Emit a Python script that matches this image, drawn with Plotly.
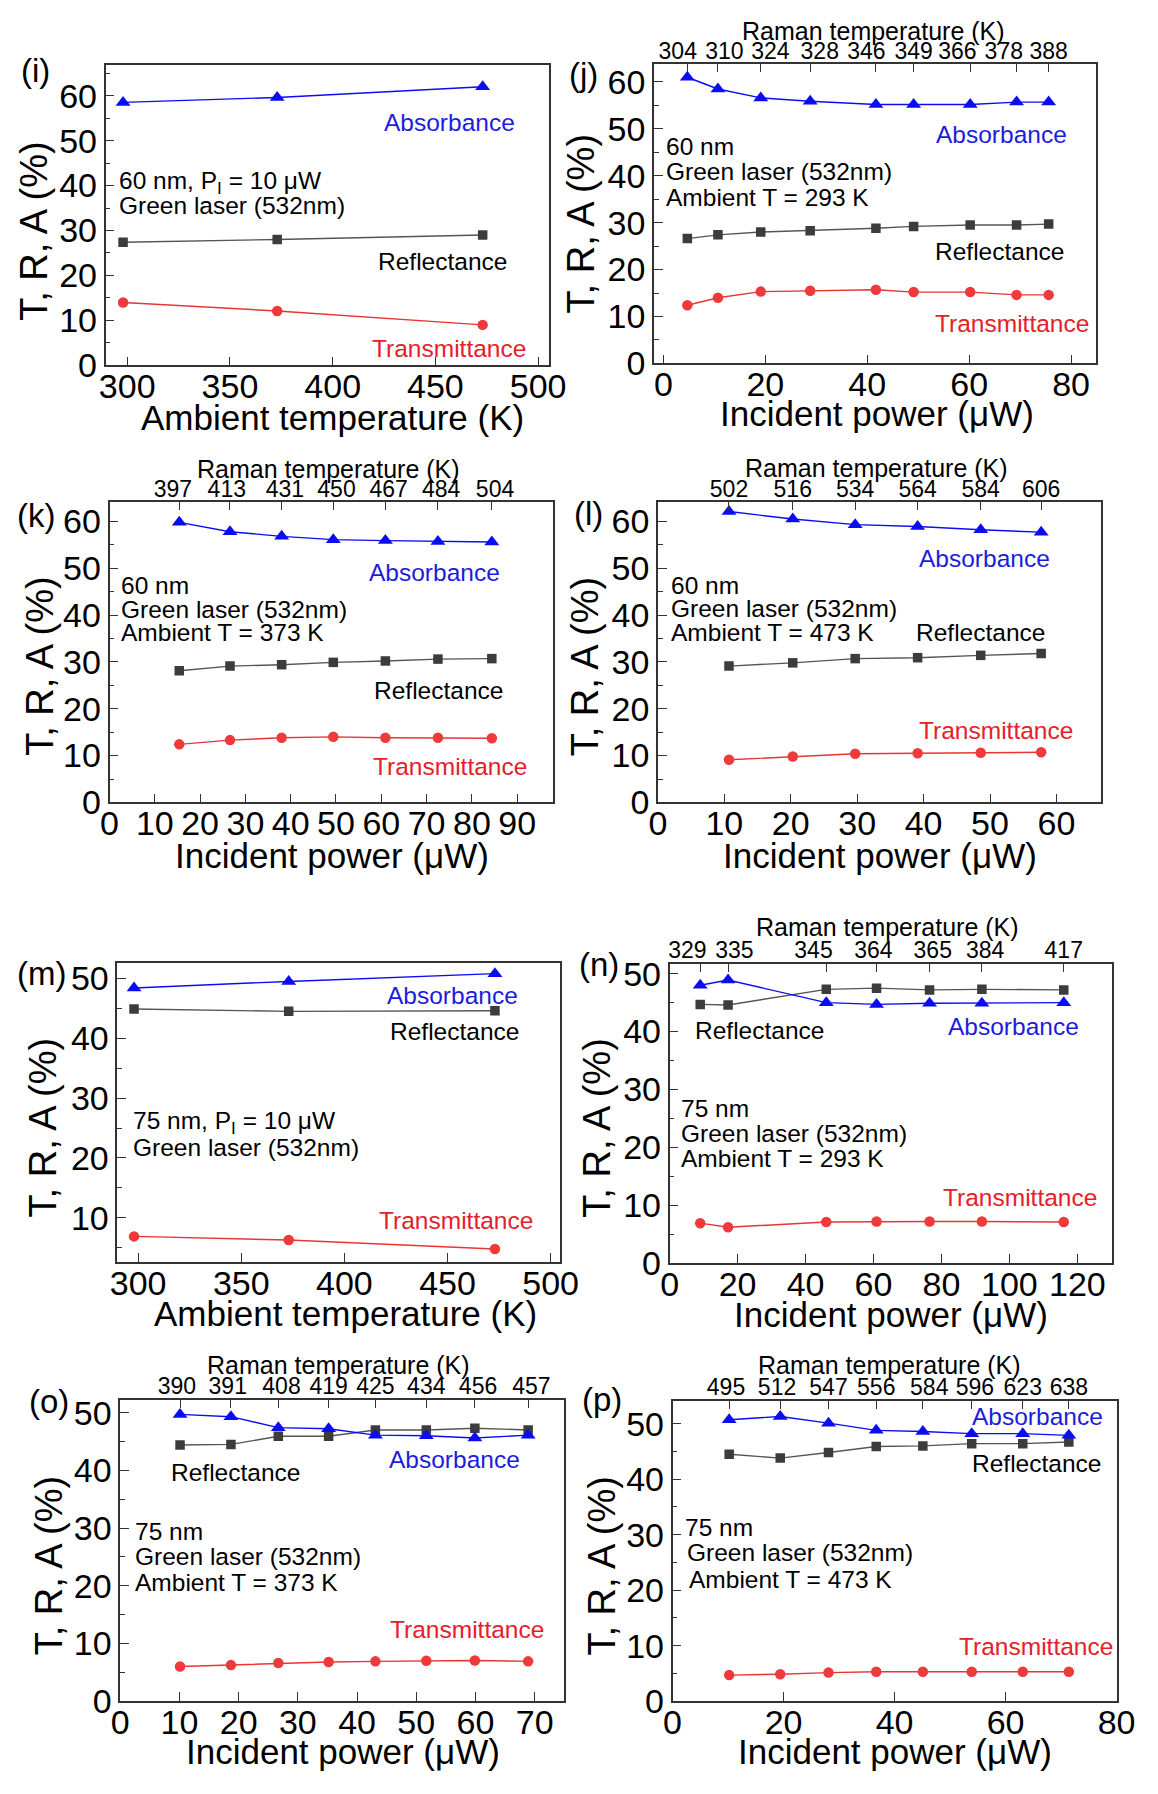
import plotly.graph_objects as go

# ---------------- data ----------------
# (i) 60 nm film, P_I = 10 uW, versus ambient temperature
i_temp = [298, 373, 473]
i_abs = [58.5, 59.6, 62.0]
i_ref = [27.4, 28.0, 29.0]
i_trn = [14.0, 12.1, 9.0]

# (j) 60 nm, ambient 293 K
j_power = [4.7, 10.7, 19.1, 28.8, 41.7, 49.1, 60.2, 69.3, 75.6]
j_raman = [304, 310, 324, 328, 346, 349, 366, 378, 388]
j_abs = [61.0, 58.5, 56.6, 55.9, 55.2, 55.2, 55.2, 55.7, 55.7]
j_ref = [26.6, 27.4, 28.0, 28.3, 28.8, 29.2, 29.5, 29.5, 29.7]
j_trn = [12.4, 14.0, 15.3, 15.5, 15.7, 15.2, 15.2, 14.6, 14.6]

# (k) 60 nm, ambient 373 K
k_power = [15.4, 26.6, 38.0, 49.4, 60.9, 72.5, 84.4]
k_raman = [397, 413, 431, 450, 467, 484, 504]
k_abs = [59.8, 57.8, 56.8, 56.1, 55.9, 55.7, 55.6]
k_ref = [28.1, 29.1, 29.4, 29.9, 30.2, 30.6, 30.7]
k_trn = [12.4, 13.3, 13.8, 14.0, 13.8, 13.8, 13.7]

# (l) 60 nm, ambient 473 K
l_power = [10.7, 20.3, 29.7, 39.1, 48.6, 57.7]
l_raman = [502, 516, 534, 564, 584, 606]
l_abs = [62.1, 60.5, 59.3, 58.9, 58.2, 57.7]
l_ref = [29.1, 29.8, 30.7, 30.9, 31.4, 31.8]
l_trn = [9.1, 9.8, 10.4, 10.5, 10.6, 10.7]

# (m) 75 nm film, P_I = 10 uW, versus ambient temperature
m_temp = [298, 373, 473]
m_abs = [48.4, 49.5, 50.8]
m_ref = [44.9, 44.5, 44.6]
m_trn = [6.9, 6.3, 4.8]

# (n) 75 nm, ambient 293 K
n_power = [9.0, 17.2, 46.1, 60.9, 76.5, 91.9, 116.0]
n_raman = [329, 335, 345, 364, 365, 384, 417]
n_abs = [48.0, 48.9, 45.0, 44.7, 44.9, 44.9, 45.0]
n_ref = [44.7, 44.6, 47.3, 47.5, 47.2, 47.3, 47.2]
n_trn = [6.9, 6.2, 7.1, 7.2, 7.2, 7.2, 7.1]

# (o) 75 nm, ambient 373 K
o_power = [10.1, 18.7, 26.7, 35.2, 43.1, 51.7, 59.9, 68.9]
o_raman = [390, 391, 408, 419, 425, 434, 456, 457]
o_abs = [49.7, 49.3, 47.4, 47.2, 46.1, 46.0, 45.6, 46.1]
o_ref = [44.4, 44.5, 45.9, 45.9, 47.0, 47.0, 47.3, 47.0]
o_trn = [6.0, 6.25, 6.6, 6.8, 6.9, 7.0, 7.05, 6.9]

# (p) 75 nm, ambient 473 K
p_power = [10.2, 19.4, 28.1, 36.7, 45.1, 53.9, 63.1, 71.4]
p_raman = [495, 512, 547, 556, 584, 596, 623, 638]
p_abs = [50.7, 51.3, 50.1, 48.8, 48.6, 48.2, 48.2, 47.9]
p_ref = [44.5, 43.8, 44.8, 45.9, 46.0, 46.4, 46.4, 46.7]
p_trn = [4.7, 4.85, 5.15, 5.3, 5.3, 5.3, 5.3, 5.3]

# ---------------- styling ----------------
W, H = 1158, 1794
FONT = "Liberation Sans, Arial, Helvetica, sans-serif"
BLUE, BLUE_TXT = "#0c0cf2", "#1c1cdc"
GRAY, GRAY_LINE = "#3c3c3c", "#555555"
RED, RED_LINE, RED_TXT = "#ee3a3a", "#e83434", "#e5202a"
FRAME = "#333333"

TICK_FS = 34
XTITLE_FS = 35
YTITLE_FS = 38
TAG_FS = 33
TOP_TICK_FS = 23
TOP_TITLE_FS = 25
LABEL_FS = 24.5
INFO_FS = 24.5

X_AMB = "Ambient temperature (K)"
X_POW = "Incident power (\u03bcW)"
NBSP = "\u00a0"

# panel layout: box (left, right, top, bottom) in px, axis ranges, x tick step,
# label positions in px; "nudge" offsets crowded top labels (in padding spaces,
# negative = to the left)
panels = [
    dict(tag="(i)", x=i_temp, a=i_abs, r=i_ref, t=i_trn, raman=None,
         box=(99, 553, 57, 362), xr=[289.5, 505.1], yr=[0, 66.8], dx=50, x0=300,
         xtitle=X_AMB, xt=(332, 415), yt=(26, 226), tg=(27, 62), top=None,
         lab_a=(451, 115), lab_r=(444, 256), lab_t=(451, 345),
         info=[(111, 176, "60 nm, P<sub>I</sub> = 10 \u03bcW"), (111, 200, "Green laser (532nm)")]),
    dict(tag="(j)", x=j_power, a=j_abs, r=j_ref, t=j_trn, raman=j_raman,
         nudge=[-3, 2, 3, 3, -3, 0, -4, -4, 0],
         box=(661, 1114, 56, 360), xr=[-1.84, 84.9], yr=[0, 63.8], dx=20, x0=0,
         xtitle=X_POW, xt=(889, 411), yt=(586, 218), tg=(589, 67), top=(886, 22),
         lab_a=(1017, 127), lab_r=(1015, 246), lab_t=(1028, 319),
         info=[(671, 140, "60 nm"), (671, 165, "Green laser (532nm)"), (671, 191, "Ambient T = 293 K")]),
    dict(tag="(k)", x=k_power, a=k_abs, r=k_ref, t=k_trn, raman=k_raman,
         nudge=[-2, -1, 1, 1, 1, 1, 1],
         box=(103, 557, 501, 806), xr=[0, 97.8], yr=[0, 64.1], dx=10, x0=0,
         xtitle=X_POW, xt=(331, 860), yt=(31, 668), tg=(28, 515), top=(327, 467),
         lab_a=(436, 572), lab_r=(440, 692), lab_t=(452, 770),
         info=[(113, 586, "60 nm"), (113, 610, "Green laser (532nm)"), (113, 633, "Ambient T = 373 K")]),
    dict(tag="(l)", x=l_power, a=l_abs, r=l_ref, t=l_trn, raman=l_raman,
         nudge=[0, 0, 0, 0, 0, 0],
         box=(665, 1119, 501, 806), xr=[0, 66.7], yr=[0, 64.1], dx=10, x0=0,
         xtitle=X_POW, xt=(893, 860), yt=(590, 668), tg=(594, 512), top=(889, 466),
         lab_a=(1000, 558), lab_r=(996, 633), lab_t=(1011, 733),
         info=[(676, 586, "60 nm"), (676, 609, "Green laser (532nm)"), (676, 633, "Ambient T = 473 K")]),
    dict(tag="(m)", x=m_temp, a=m_abs, r=m_ref, t=m_trn, raman=None,
         box=(111, 565, 969, 1273), xr=[289.9, 504.7], yr=[2.6, 52.6], dx=50, x0=300,
         xtitle=X_AMB, xt=(345, 1325), yt=(35, 1137), tg=(33, 980), top=None,
         lab_a=(454, 1002), lab_r=(457, 1039), lab_t=(458, 1231),
         info=[(125, 1131, "75 nm, P<sub>I</sub> = 10 \u03bcW"), (125, 1157, "Green laser (532nm)")]),
    dict(tag="(n)", x=n_power, a=n_abs, r=n_ref, t=n_trn, raman=n_raman,
         nudge=[-4, 2, -4, -1, 1, 1, 0],
         box=(677, 1130, 970, 1274), xr=[0, 130.1], yr=[0, 51.7], dx=20, x0=0,
         xtitle=X_POW, xt=(904, 1326), yt=(603, 1137), tg=(605, 971), top=(900, 933),
         lab_a=(1029, 1034), lab_r=(769, 1038), lab_t=(1036, 1207),
         info=[(687, 1117, "75 nm"), (687, 1142, "Green laser (532nm)"), (687, 1168, "Ambient T = 293 K")]),
    dict(tag="(o)", x=o_power, a=o_abs, r=o_ref, t=o_trn, raman=o_raman,
         nudge=[-1, -1, 1, 0, 0, 0, 1, 1],
         box=(114, 569, 1413, 1719), xr=[0, 75], yr=[0, 52.2], dx=10, x0=0,
         xtitle=X_POW, xt=(342, 1770), yt=(41, 1582), tg=(41, 1415), top=(338, 1378),
         lab_a=(457, 1474), lab_r=(232, 1487), lab_t=(469, 1646),
         info=[(127, 1547, "75 nm"), (127, 1572, "Green laser (532nm)"), (127, 1598, "Ambient T = 373 K")]),
    dict(tag="(p)", x=p_power, a=p_abs, r=p_ref, t=p_trn, raman=p_raman,
         nudge=[-1, -1, 0, 0, 2, 1, 0, 0],
         box=(680, 1135, 1414, 1719), xr=[0, 80], yr=[0, 54.1], dx=20, x0=0,
         xtitle=X_POW, xt=(908, 1770), yt=(608, 1582), tg=(608, 1413), top=(902, 1378),
         lab_a=(1054, 1430), lab_r=(1053, 1478), lab_t=(1052, 1663),
         info=[(691, 1543, "75 nm"), (693, 1568, "Green laser (532nm)"), (695, 1595, "Ambient T = 473 K")]),
]


def fx(px):
    return px / W


def fy(py):
    return 1 - py / H


def top_label(value, nudge):
    # pad with non-breaking spaces so the centred label sits off its tick
    s = str(value)
    if nudge < 0:
        return s + NBSP * (-nudge)
    return NBSP * nudge + s


fig = go.Figure()
annotations = []
layout = {}


def text(x, y, s, size, color="black", xanchor="center", angle=0):
    annotations.append(dict(
        x=fx(x), y=fy(y), xref="paper", yref="paper", text=s, showarrow=False,
        xanchor=xanchor, yanchor="middle", textangle=angle,
        font=dict(family=FONT, size=size, color=color)))


for n, p in enumerate(panels, start=1):
    sfx = "" if n == 1 else str(n)
    xref, yref = f"x{sfx}", f"y{sfx}"
    left, right, top, bottom = p["box"]

    series = [
        (p["r"], GRAY, GRAY_LINE, "square", 9.5),
        (p["t"], RED, RED_LINE, "circle", 10.5),
        (p["a"], BLUE, BLUE, "triangle-up", 13),
    ]
    for ys, mc, lc, sym, ms in series:
        fig.add_trace(go.Scatter(
            x=p["x"], y=ys, xaxis=xref, yaxis=yref, mode="lines+markers",
            line=dict(color=lc, width=1.4),
            marker=dict(symbol=sym, size=ms, color=mc, line=dict(width=0)),
            showlegend=False, hoverinfo="skip"))

    layout[f"xaxis{sfx}"] = dict(
        domain=[fx(left), fx(right)], anchor=yref, range=p["xr"],
        tick0=p["x0"], dtick=p["dx"], ticks="inside", ticklen=9, tickwidth=1.4,
        tickcolor=FRAME, showline=True, linecolor=FRAME, linewidth=1.6, mirror=True,
        showgrid=False, zeroline=False, tickangle=0, ticklabelstandoff=-10,
        tickfont=dict(family=FONT, size=TICK_FS, color="black"))
    layout[f"yaxis{sfx}"] = dict(
        domain=[fy(bottom), fy(top)], anchor=xref, range=p["yr"],
        tick0=0, dtick=10, ticks="inside", ticklen=9, tickwidth=1.4,
        tickcolor=FRAME, showline=True, linecolor=FRAME, linewidth=1.6, mirror=True,
        showgrid=False, zeroline=False,
        minor=dict(ticks="inside", ticklen=5, tick0=0, dtick=5, tickcolor=FRAME, tickwidth=1.2),
        tickfont=dict(family=FONT, size=TICK_FS, color="black"))

    if p["raman"] is not None:
        nudges = p.get("nudge", [0] * len(p["raman"]))
        layout[f"xaxis{n + 8}"] = dict(
            overlaying=xref, anchor=yref, side="top", range=p["xr"],
            tickmode="array", tickvals=p["x"],
            ticktext=[top_label(v, s) for v, s in zip(p["raman"], nudges)],
            ticks="inside", ticklen=8, tickwidth=1.4, tickcolor=FRAME, tickangle=0,
            showline=False, showgrid=False, zeroline=False,
            tickfont=dict(family=FONT, size=TOP_TICK_FS, color="black"))
        # transparent copy of the absorbance points so the top axis is rendered
        fig.add_trace(go.Scatter(
            x=p["x"], y=p["a"], xaxis=f"x{n + 8}", yaxis=yref, mode="markers",
            marker=dict(opacity=0), showlegend=False, hoverinfo="skip"))
        text(p["top"][0], p["top"][1], "Raman temperature (K)", TOP_TITLE_FS)

    text(p["xt"][0], p["xt"][1], p["xtitle"], XTITLE_FS)
    text(p["yt"][0], p["yt"][1], "T, R, A (%)", YTITLE_FS, angle=-90)
    text(p["tg"][0], p["tg"][1], p["tag"], TAG_FS)
    text(p["lab_a"][0], p["lab_a"][1], "Absorbance", LABEL_FS, BLUE_TXT)
    text(p["lab_r"][0], p["lab_r"][1], "Reflectance", LABEL_FS, "black")
    text(p["lab_t"][0], p["lab_t"][1], "Transmittance", LABEL_FS, RED_TXT)
    for ix, iy, s in p["info"]:
        text(ix, iy, s, INFO_FS, xanchor="left")

fig.update_layout(
    width=W, height=H, margin=dict(l=0, r=0, t=0, b=0),
    paper_bgcolor="white", plot_bgcolor="white",
    font=dict(family=FONT, color="black"),
    annotations=annotations, showlegend=False, **layout)

fig.write_html("out.html")
